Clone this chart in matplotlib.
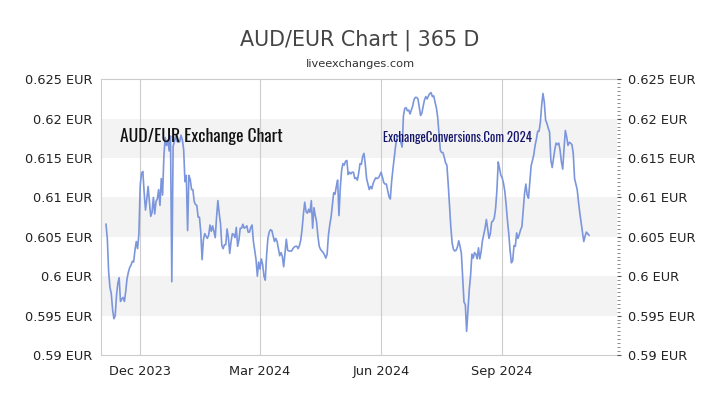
import matplotlib
matplotlib.use("Agg")
import matplotlib.pyplot as plt
import matplotlib.dates as mdates
from matplotlib.ticker import MultipleLocator, FuncFormatter, FixedLocator
import pandas as pd

# ---- data -------------------------------------------------------------
start_date = "2023-11-05"
rates = [
    .6066, .6048, .6006, .5986, .5978, .5958, .5946, .5950, .5976, .5991,
    .5998, .5968, .5971, .5973, .5968, .5981, .5997, .6005, .6011, .6014,
    .6019, .6018, .6033, .6044, .6035, .6054, .6115, .6131, .6133, .6106,
    .6084, .6098, .6114, .6094, .6076, .6081, .6100, .6079, .6095, .6098,
    .6110, .6090, .6124, .6103, .6153, .6176, .6166, .6173, .6159, .6178,
    .5993, .6165, .6171, .6178, .6171, .6170, .6171, .6179, .6173, .6161,
    .6120, .6128, .6058, .6128, .6123, .6110, .6110, .6095, .6091, .6090,
    .6075, .6075, .6056, .6021, .6046, .6054, .6051, .6048, .6052, .6065,
    .6057, .6064, .6057, .6049, .6075, .6096, .6080, .6067, .6039, .6035,
    .6040, .6040, .6060, .6049, .6029, .6044, .6054, .6053, .6049, .6062,
    .6038, .6046, .6061, .6061, .6066, .6061, .6062, .6064, .6056, .6056,
    .6062, .6065, .6044, .6033, .6021, .6000, .6018, .6009, .6022, .6015,
    .6000, .5995, .6026, .6048, .6056, .6059, .6058, .6051, .6044, .6048,
    .6044, .6035, .6026, .6030, .6025, .6012, .6029, .6047, .6033, .6032,
    .6032, .6032, .6035, .6037, .6038, .6038, .6035, .6039, .6046, .6060,
    .6079, .6094, .6082, .6080, .6085, .6081, .6096, .6061, .6087, .6077,
    .6069, .6051, .6038, .6034, .6032, .6030, .6027, .6023, .6028, .6052,
    .6065, .6075, .6090, .6106, .6104, .6114, .6122, .6077, .6112, .6134,
    .6143, .6141, .6146, .6147, .6129, .6132, .6130, .6132, .6132, .6124,
    .6125, .6122, .6131, .6143, .6142, .6152, .6156, .6142, .6124, .6117,
    .6110, .6114, .6111, .6118, .6122, .6125, .6124, .6125, .6128, .6132,
    .6126, .6119, .6117, .6117, .6109, .6101, .6098, .6120, .6136, .6150,
    .6165, .6176, .6178, .6178, .6170, .6164, .6204, .6213, .6214, .6210,
    .6211, .6206, .6211, .6216, .6224, .6227, .6227, .6225, .6215, .6204,
    .6207, .6216, .6224, .6228, .6225, .6229, .6232, .6233, .6228, .6229,
    .6221, .6214, .6202, .6181, .6160, .6157, .6157, .6151, .6144, .6141,
    .6117, .6090, .6062, .6042, .6034, .6032, .6033, .6037, .6045, .6038,
    .6029, .5997, .5967, .5964, .5930, .5957, .5983, .6001, .6028, .6023,
    .6030, .6028, .6022, .6036, .6022, .6031, .6045, .6053, .6061, .6072,
    .6060, .6048, .6054, .6069, .6070, .6074, .6086, .6109, .6145, .6137,
    .6128, .6125, .6118, .6108, .6091, .6071, .6054, .6033, .6017, .6020,
    .6039, .6038, .6055, .6048, .6053, .6059, .6063, .6084, .6105, .6117,
    .6103, .6099, .6119, .6140, .6147, .6154, .6166, .6174, .6184, .6184,
    .6195, .6217, .6232, .6221, .6198, .6194, .6188, .6183, .6147, .6138,
    .6150, .6161, .6169, .6167, .6169, .6160, .6145, .6136, .6162, .6185,
    .6177, .6166, .6170, .6169, .6167, .6156, .6124, .6117, .6110, .6094,
    .6080, .6068, .6057, .6044, .6051, .6056, .6054, .6052,
]
y_ticks = [0.59, 0.595, 0.6, 0.605, 0.61, 0.615, 0.62, 0.625]
band_ranges = [(0.595, 0.6), (0.605, 0.61), (0.615, 0.62)]
x_range = ("2023-11-01", "2024-11-27")
title = "AUD/EUR Chart | 365 D"
subtitle = "liveexchanges.com"
watermark_left = "AUD/EUR Exchange Chart"
watermark_right = "ExchangeConversions.Com 2024"

dates = pd.date_range(start_date, periods=len(rates), freq="D")

narrow = ["Oswald", "Roboto Condensed", "IBM Plex Sans Condensed", "DejaVu Sans"]

# ---- figure -------------------------------------------------------------
fig = plt.figure(figsize=(7.2, 4.05), dpi=100)
ax = fig.add_axes([0.1399, 0.1235, 0.8565 - 0.1399, 0.8042 - 0.1235])

ax.set_xlim(pd.Timestamp(x_range[0]), pd.Timestamp(x_range[1]))
ax.set_ylim(y_ticks[0], y_ticks[-1])

for lo, hi in band_ranges:
    ax.axhspan(lo, hi, color="#f3f3f3", lw=0, zorder=0)

ax.xaxis.set_major_locator(mdates.MonthLocator(bymonth=[3, 6, 9, 12]))
ax.xaxis.set_major_formatter(mdates.DateFormatter("%b %Y"))
ax.grid(axis="x", color="#cccccc", lw=0.8, zorder=1)

ax.plot(dates, rates, color="#7b96dc", lw=1.2, zorder=3)

fmt = FuncFormatter(lambda v, p: f"{v:g} EUR")
ax.yaxis.set_major_locator(FixedLocator(y_ticks))
ax.yaxis.set_major_formatter(fmt)
ax.tick_params(axis="y", length=0, pad=6, labelsize=9.3, labelcolor="#222222")
ax.tick_params(axis="x", length=0, pad=7, labelsize=9.3, labelcolor="#222222")

for s in ["left", "top", "bottom"]:
    ax.spines[s].set_color("#cccccc")
    ax.spines[s].set_linewidth(0.8)
ax.spines["right"].set_visible(False)

ax2 = ax.twinx()
ax2.set_ylim(ax.get_ylim())
ax2.yaxis.set_major_locator(FixedLocator(y_ticks))
ax2.yaxis.set_major_formatter(fmt)
ax2.yaxis.set_minor_locator(MultipleLocator(0.0005))
ax2.tick_params(axis="y", which="major", length=3, width=0.8, color="#555555",
                pad=5, labelsize=9.3, labelcolor="#222222")
ax2.tick_params(axis="y", which="minor", length=2, width=0.6, color="#777777")
for s in ax2.spines.values():
    s.set_visible(False)

ax.text(0.0374, 0.792, watermark_left, transform=ax.transAxes,
        family=narrow, fontweight="bold",
        fontsize=12.7, color="#111111", va="center", ha="left", zorder=4)
ax.text(0.547, 0.79, watermark_right, transform=ax.transAxes,
        family=narrow, fontweight="bold",
        fontsize=9.2, color="#14146b", va="center", ha="left", zorder=4)

fig.text(0.5, 1 - 40 / 405, title, ha="center", va="center",
         fontsize=14.9, color="#444444")
fig.text(0.5, 1 - 64 / 405, subtitle, ha="center", va="center",
         fontsize=8.2, color="#333333")

fig.savefig("out.png", dpi=100)
